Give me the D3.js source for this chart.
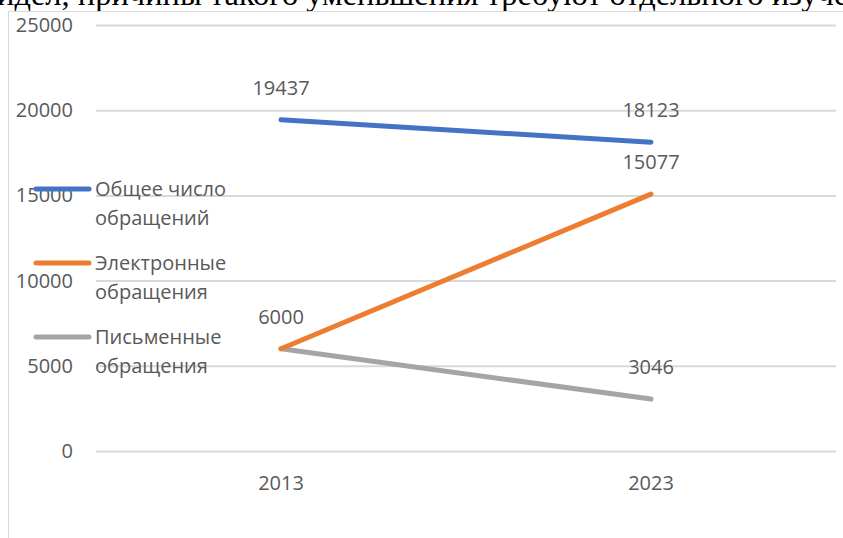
<!DOCTYPE html>
<html lang="ru">
<head>
  <meta charset="UTF-8">
  <title>Обращения 2013–2023</title>
  <style>
    body { margin: 0; background: #fff; overflow: hidden; }
    svg { display: block; }
    text { font-family: 'Open Sans', sans-serif; fill: #595959; }
    .cut { font-family: 'Liberation Serif', serif; fill: #000; }
  </style>
</head>
<body>
  <svg id="chart" width="843" height="538"></svg>

  <script src="https://cdnjs.cloudflare.com/ajax/libs/d3/7.8.5/d3.min.js"></script>
  <script>
    const years = ['2013', '2023'];
    const totalAppeals = [19437, 18123];
    const electronicAppeals = [6000, 15077];
    const writtenAppeals = [6000, 3046];
    const yTicks = [0, 5000, 10000, 15000, 20000, 25000];
    const seriesNames = [['Общее число', 'обращений'], ['Электронные', 'обращения'], ['Письменные', 'обращения']];

    (function() {
      const series = [
        { name: seriesNames[0], values: totalAppeals, color: '#4472C4' },
        { name: seriesNames[1], values: electronicAppeals, color: '#ED7D31' },
        { name: seriesNames[2], values: writtenAppeals, color: '#A5A5A5' }
      ];

      const svg = d3.select('#chart');

      // cut-off line of document text above the chart (only its lower part shows)
      svg.append('text').attr('class', 'cut')
        .attr('x', -3).attr('y', 5)
        .attr('font-size', 32.5)
        .text('идел, причины такого уменьшения требуют отдельного изучения');

      // chart frame (runs off the right and bottom edges)
      svg.append('rect')
        .attr('x', 8.5).attr('y', 11.5)
        .attr('width', 900).attr('height', 600)
        .attr('fill', '#fff').attr('stroke', '#d9d9d9');

      const plotLeft = 96, plotRight = 836, plotTop = 25, plotBottom = 451;

      const x = d3.scaleBand().domain(years).range([plotLeft, plotRight]);
      const y = d3.scaleLinear().domain([0, 25000]).range([plotBottom, plotTop]);
      const cx = d => x(d) + x.bandwidth() / 2;

      // gridlines + y labels
      const yAxis = d3.axisLeft(y).tickValues(yTicks).tickFormat(d3.format('d'))
        .tickSize(-(plotRight - plotLeft)).tickPadding(23);
      const gy = svg.append('g').attr('transform', `translate(${plotLeft},0)`).call(yAxis);
      gy.select('.domain').remove();
      gy.selectAll('.tick line').attr('stroke', '#d9d9d9').attr('stroke-width', 2);
      gy.selectAll('.tick text').attr('font-size', 20).attr('fill', '#595959')
        .attr('font-family', "'Open Sans', sans-serif");

      // x labels
      const xAxis = d3.axisBottom(x).tickSize(0).tickPadding(25);
      const gx = svg.append('g').attr('transform', `translate(0,${plotBottom})`).call(xAxis);
      gx.select('.domain').remove();
      gx.selectAll('.tick text').attr('font-size', 20).attr('fill', '#595959')
        .attr('font-family', "'Open Sans', sans-serif");

      // lines (grey first so orange and blue sit on top)
      const line = d3.line().x((d, i) => cx(years[i])).y(d => y(d));
      series.slice().reverse().forEach(s => {
        svg.append('path')
          .attr('d', line(s.values))
          .attr('fill', 'none')
          .attr('stroke', s.color)
          .attr('stroke-width', 5)
          .attr('stroke-linecap', 'round');
      });

      // data labels; the shared 6000 point gets a single label
      const labels = [];
      series.forEach(s => s.values.forEach((v, i) => {
        if (!labels.some(l => l.year === years[i] && l.value === v)) labels.push({ year: years[i], value: v });
      }));
      svg.append('g').selectAll('text').data(labels).enter().append('text')
        .attr('x', d => cx(d.year))
        .attr('y', d => y(d.value) - 25)
        .attr('text-anchor', 'middle')
        .attr('font-size', 20)
        .text(d => d3.format('d')(d.value));

      // legend on the left, over the axis labels
      const lg = svg.append('g');
      series.forEach((s, i) => {
        const ly = 189 + i * 74;
        lg.append('line')
          .attr('x1', 36).attr('x2', 89).attr('y1', ly).attr('y2', ly)
          .attr('stroke', s.color).attr('stroke-width', 5).attr('stroke-linecap', 'round');
        s.name.forEach((t, j) => {
          lg.append('text')
            .attr('x', 95).attr('y', ly + 7 + j * 29)
            .attr('font-size', 20)
            .text(t);
        });
      });
    })();
  </script>
</body>
</html>
